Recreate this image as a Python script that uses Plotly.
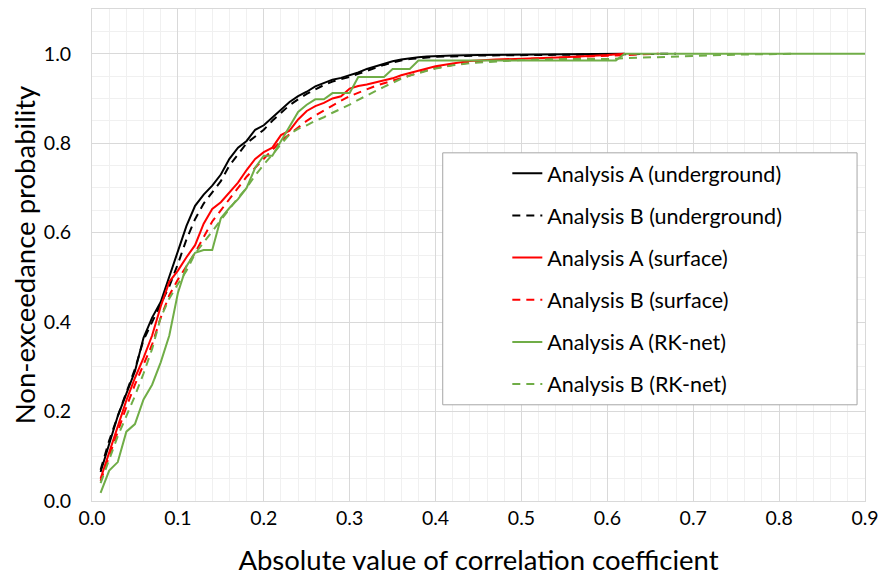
import plotly.graph_objects as go

# Empirical non-exceedance curves of |correlation coefficient|
x_ug_a = [0.01, 0.02, 0.03, 0.04, 0.05, 0.06, 0.07, 0.08, 0.09, 0.10,
          0.11, 0.12, 0.13, 0.14, 0.15, 0.16, 0.17, 0.18, 0.19, 0.20,
          0.21, 0.22, 0.23, 0.24, 0.25, 0.26, 0.27, 0.28, 0.29, 0.30,
          0.31, 0.32, 0.33, 0.34, 0.35, 0.36, 0.37, 0.38, 0.39, 0.40,
          0.42, 0.45, 0.50, 0.55, 0.62]
y_ug_a = [0.065, 0.13, 0.19, 0.24, 0.29, 0.365, 0.41, 0.445, 0.50, 0.56,
          0.615, 0.66, 0.685, 0.705, 0.73, 0.765, 0.79, 0.805, 0.83, 0.84,
          0.857, 0.875, 0.892, 0.905, 0.915, 0.927, 0.935, 0.942, 0.946, 0.952,
          0.958, 0.966, 0.972, 0.978, 0.983, 0.987, 0.99, 0.992, 0.994, 0.995,
          0.996, 0.997, 0.998, 0.999, 1.0]

x_ug_b = [0.01, 0.02, 0.03, 0.04, 0.05, 0.06, 0.07, 0.08, 0.09, 0.10,
          0.11, 0.12, 0.13, 0.14, 0.15, 0.16, 0.17, 0.18, 0.19, 0.20,
          0.21, 0.22, 0.23, 0.24, 0.25, 0.26, 0.27, 0.28, 0.29, 0.30,
          0.31, 0.32, 0.33, 0.34, 0.35, 0.36, 0.37, 0.38, 0.40, 0.45,
          0.50, 0.55, 0.60, 0.68]
y_ug_b = [0.07, 0.135, 0.19, 0.245, 0.295, 0.36, 0.40, 0.44, 0.48, 0.53,
          0.585, 0.63, 0.665, 0.69, 0.715, 0.75, 0.775, 0.80, 0.815, 0.83,
          0.85, 0.868, 0.885, 0.898, 0.91, 0.92, 0.93, 0.938, 0.943, 0.948,
          0.955, 0.962, 0.968, 0.975, 0.98, 0.985, 0.988, 0.99, 0.993, 0.996,
          0.997, 0.998, 0.999, 1.0]

x_sf_a = [0.01, 0.02, 0.03, 0.04, 0.05, 0.06, 0.07, 0.08, 0.09, 0.10,
          0.11, 0.12, 0.13, 0.14, 0.15, 0.16, 0.17, 0.18, 0.19, 0.20,
          0.21, 0.22, 0.23, 0.24, 0.25, 0.26, 0.27, 0.28, 0.29, 0.30,
          0.31, 0.32, 0.33, 0.34, 0.35, 0.36, 0.37, 0.38, 0.39, 0.40,
          0.42, 0.44, 0.47, 0.50, 0.55, 0.60, 0.62]
y_sf_a = [0.05, 0.11, 0.17, 0.225, 0.275, 0.32, 0.37, 0.435, 0.49, 0.515,
          0.545, 0.572, 0.62, 0.653, 0.668, 0.69, 0.712, 0.74, 0.765, 0.78,
          0.79, 0.818, 0.828, 0.853, 0.872, 0.883, 0.89, 0.90, 0.905, 0.922,
          0.928, 0.931, 0.936, 0.94, 0.945, 0.952, 0.957, 0.962, 0.967, 0.972,
          0.978, 0.984, 0.987, 0.989, 0.992, 0.997, 1.0]

x_sf_b = [0.01, 0.02, 0.03, 0.04, 0.05, 0.06, 0.07, 0.08, 0.09, 0.10,
          0.11, 0.12, 0.13, 0.14, 0.15, 0.16, 0.17, 0.18, 0.19, 0.20,
          0.21, 0.22, 0.23, 0.24, 0.25, 0.26, 0.27, 0.28, 0.29, 0.30,
          0.31, 0.32, 0.33, 0.34, 0.35, 0.36, 0.37, 0.38, 0.39, 0.40,
          0.42, 0.44, 0.47, 0.50, 0.55, 0.60, 0.66]
y_sf_b = [0.045, 0.10, 0.16, 0.21, 0.26, 0.305, 0.35, 0.41, 0.46, 0.495,
          0.525, 0.555, 0.59, 0.625, 0.65, 0.675, 0.70, 0.725, 0.745, 0.765,
          0.785, 0.805, 0.82, 0.835, 0.85, 0.862, 0.873, 0.885, 0.895, 0.905,
          0.913, 0.921, 0.928, 0.934, 0.94, 0.946, 0.952, 0.958, 0.963, 0.968,
          0.975, 0.98, 0.985, 0.988, 0.992, 0.996, 1.0]

x_rk_a = [0.01, 0.02, 0.03, 0.04, 0.05, 0.06, 0.07, 0.08, 0.09, 0.10,
          0.11, 0.12, 0.13, 0.14, 0.15, 0.16, 0.17, 0.18, 0.19, 0.20,
          0.21, 0.22, 0.23, 0.24, 0.25, 0.26, 0.27, 0.28, 0.29, 0.30,
          0.31, 0.32, 0.33, 0.34, 0.35, 0.36, 0.37, 0.38, 0.61, 0.62,
          0.90]
y_rk_a = [0.018, 0.068, 0.087, 0.155, 0.172, 0.227, 0.26, 0.31, 0.37, 0.465,
          0.525, 0.555, 0.561, 0.561, 0.632, 0.655, 0.675, 0.70, 0.745, 0.772,
          0.772, 0.805, 0.84, 0.87, 0.886, 0.898, 0.898, 0.912, 0.912, 0.912,
          0.948, 0.948, 0.948, 0.948, 0.966, 0.966, 0.966, 0.985, 0.985, 1.0,
          1.0]

x_rk_b = [0.01, 0.02, 0.03, 0.04, 0.05, 0.06, 0.07, 0.08, 0.09, 0.10,
          0.11, 0.12, 0.13, 0.14, 0.15, 0.16, 0.17, 0.18, 0.19, 0.20,
          0.21, 0.22, 0.23, 0.24, 0.25, 0.26, 0.27, 0.28, 0.29, 0.30,
          0.31, 0.32, 0.33, 0.34, 0.35, 0.36, 0.37, 0.38, 0.39, 0.40,
          0.42, 0.44, 0.47, 0.50, 0.55, 0.60, 0.62, 0.70, 0.75, 0.82]
y_rk_b = [0.04, 0.095, 0.145, 0.19, 0.235, 0.285, 0.34, 0.41, 0.453, 0.485,
          0.515, 0.553, 0.578, 0.605, 0.63, 0.655, 0.678, 0.70, 0.728, 0.752,
          0.775, 0.798, 0.82, 0.832, 0.84, 0.85, 0.858, 0.868, 0.877, 0.886,
          0.897, 0.907, 0.917, 0.926, 0.935, 0.944, 0.951, 0.957, 0.962, 0.967,
          0.974, 0.979, 0.983, 0.986, 0.988, 0.988, 0.99, 0.995, 0.998, 1.0]

series = [
    ("Analysis A (underground)", x_ug_a, y_ug_a, "#000000", "solid"),
    ("Analysis B (underground)", x_ug_b, y_ug_b, "#000000", "8px,6px"),
    ("Analysis A (surface)", x_sf_a, y_sf_a, "#FF0000", "solid"),
    ("Analysis B (surface)", x_sf_b, y_sf_b, "#FF0000", "8px,6px"),
    ("Analysis A (RK-net)", x_rk_a, y_rk_a, "#70AD47", "solid"),
    ("Analysis B (RK-net)", x_rk_b, y_rk_b, "#70AD47", "8px,6px"),
]

FONT = "Lato, Carlito, Calibri, sans-serif"

fig = go.Figure()
for i, (name, xs, ys, color, dash) in enumerate(series):
    fig.add_trace(go.Scatter(
        x=xs, y=ys, mode="lines", name=name, legendgroup=str(i),
        line=dict(color=color, width=2, dash=dash),
    ))

grid_major = "#d9d9d9"
grid_minor = "#f0f0f0"

fig.update_layout(
    width=887, height=579,
    margin=dict(l=92, r=17, t=8, b=75),
    paper_bgcolor="white", plot_bgcolor="white",
    font=dict(family=FONT, color="#000000"),
    showlegend=True,
    legend=dict(
        x=(510 - 92) / 778, y=(504 - 153) / 496,
        xanchor="left", yanchor="top",
        bgcolor="rgba(0,0,0,0)", borderwidth=0,
        font=dict(family=FONT, size=21.5, color="#000000"),
        itemwidth=30, tracegroupgap=11.2,
    ),
    xaxis=dict(
        range=[0, 0.9], dtick=0.1, tick0=0, tickformat=".1f",
        showgrid=True, gridcolor=grid_major, gridwidth=1,
        minor=dict(dtick=0.02, showgrid=True, gridcolor=grid_minor, gridwidth=1),
        showline=True, linecolor=grid_major, mirror=True, zeroline=False,
        ticks="", tickfont=dict(size=19.5, family=FONT),
        title=dict(text="Absolute value of correlation coefficient",
                   font=dict(size=27.5, family=FONT), standoff=22),
    ),
    yaxis=dict(
        range=[0, 1.1], tickvals=[0, 0.2, 0.4, 0.6, 0.8, 1.0], tickformat=".1f",
        showgrid=True, gridcolor=grid_major, gridwidth=1,
        minor=dict(dtick=0.05, showgrid=True, gridcolor=grid_minor, gridwidth=1),
        showline=True, linecolor=grid_major, mirror=True, zeroline=False,
        ticks="", tickfont=dict(size=19.5, family=FONT), ticklabelstandoff=16,
        title=dict(text="Non-exceedance probability",
                   font=dict(size=27.5, family=FONT), standoff=0),
    ),
    shapes=[dict(
        type="rect", xref="paper", yref="paper", layer="above",
        x0=(445 - 92) / 778, x1=(862 - 92) / 778,
        y0=(504 - 407) / 496, y1=(504 - 153) / 496,
        fillcolor="white", line=dict(color="#a6a6a6", width=1),
    )],
)

fig.write_html("out.html")
